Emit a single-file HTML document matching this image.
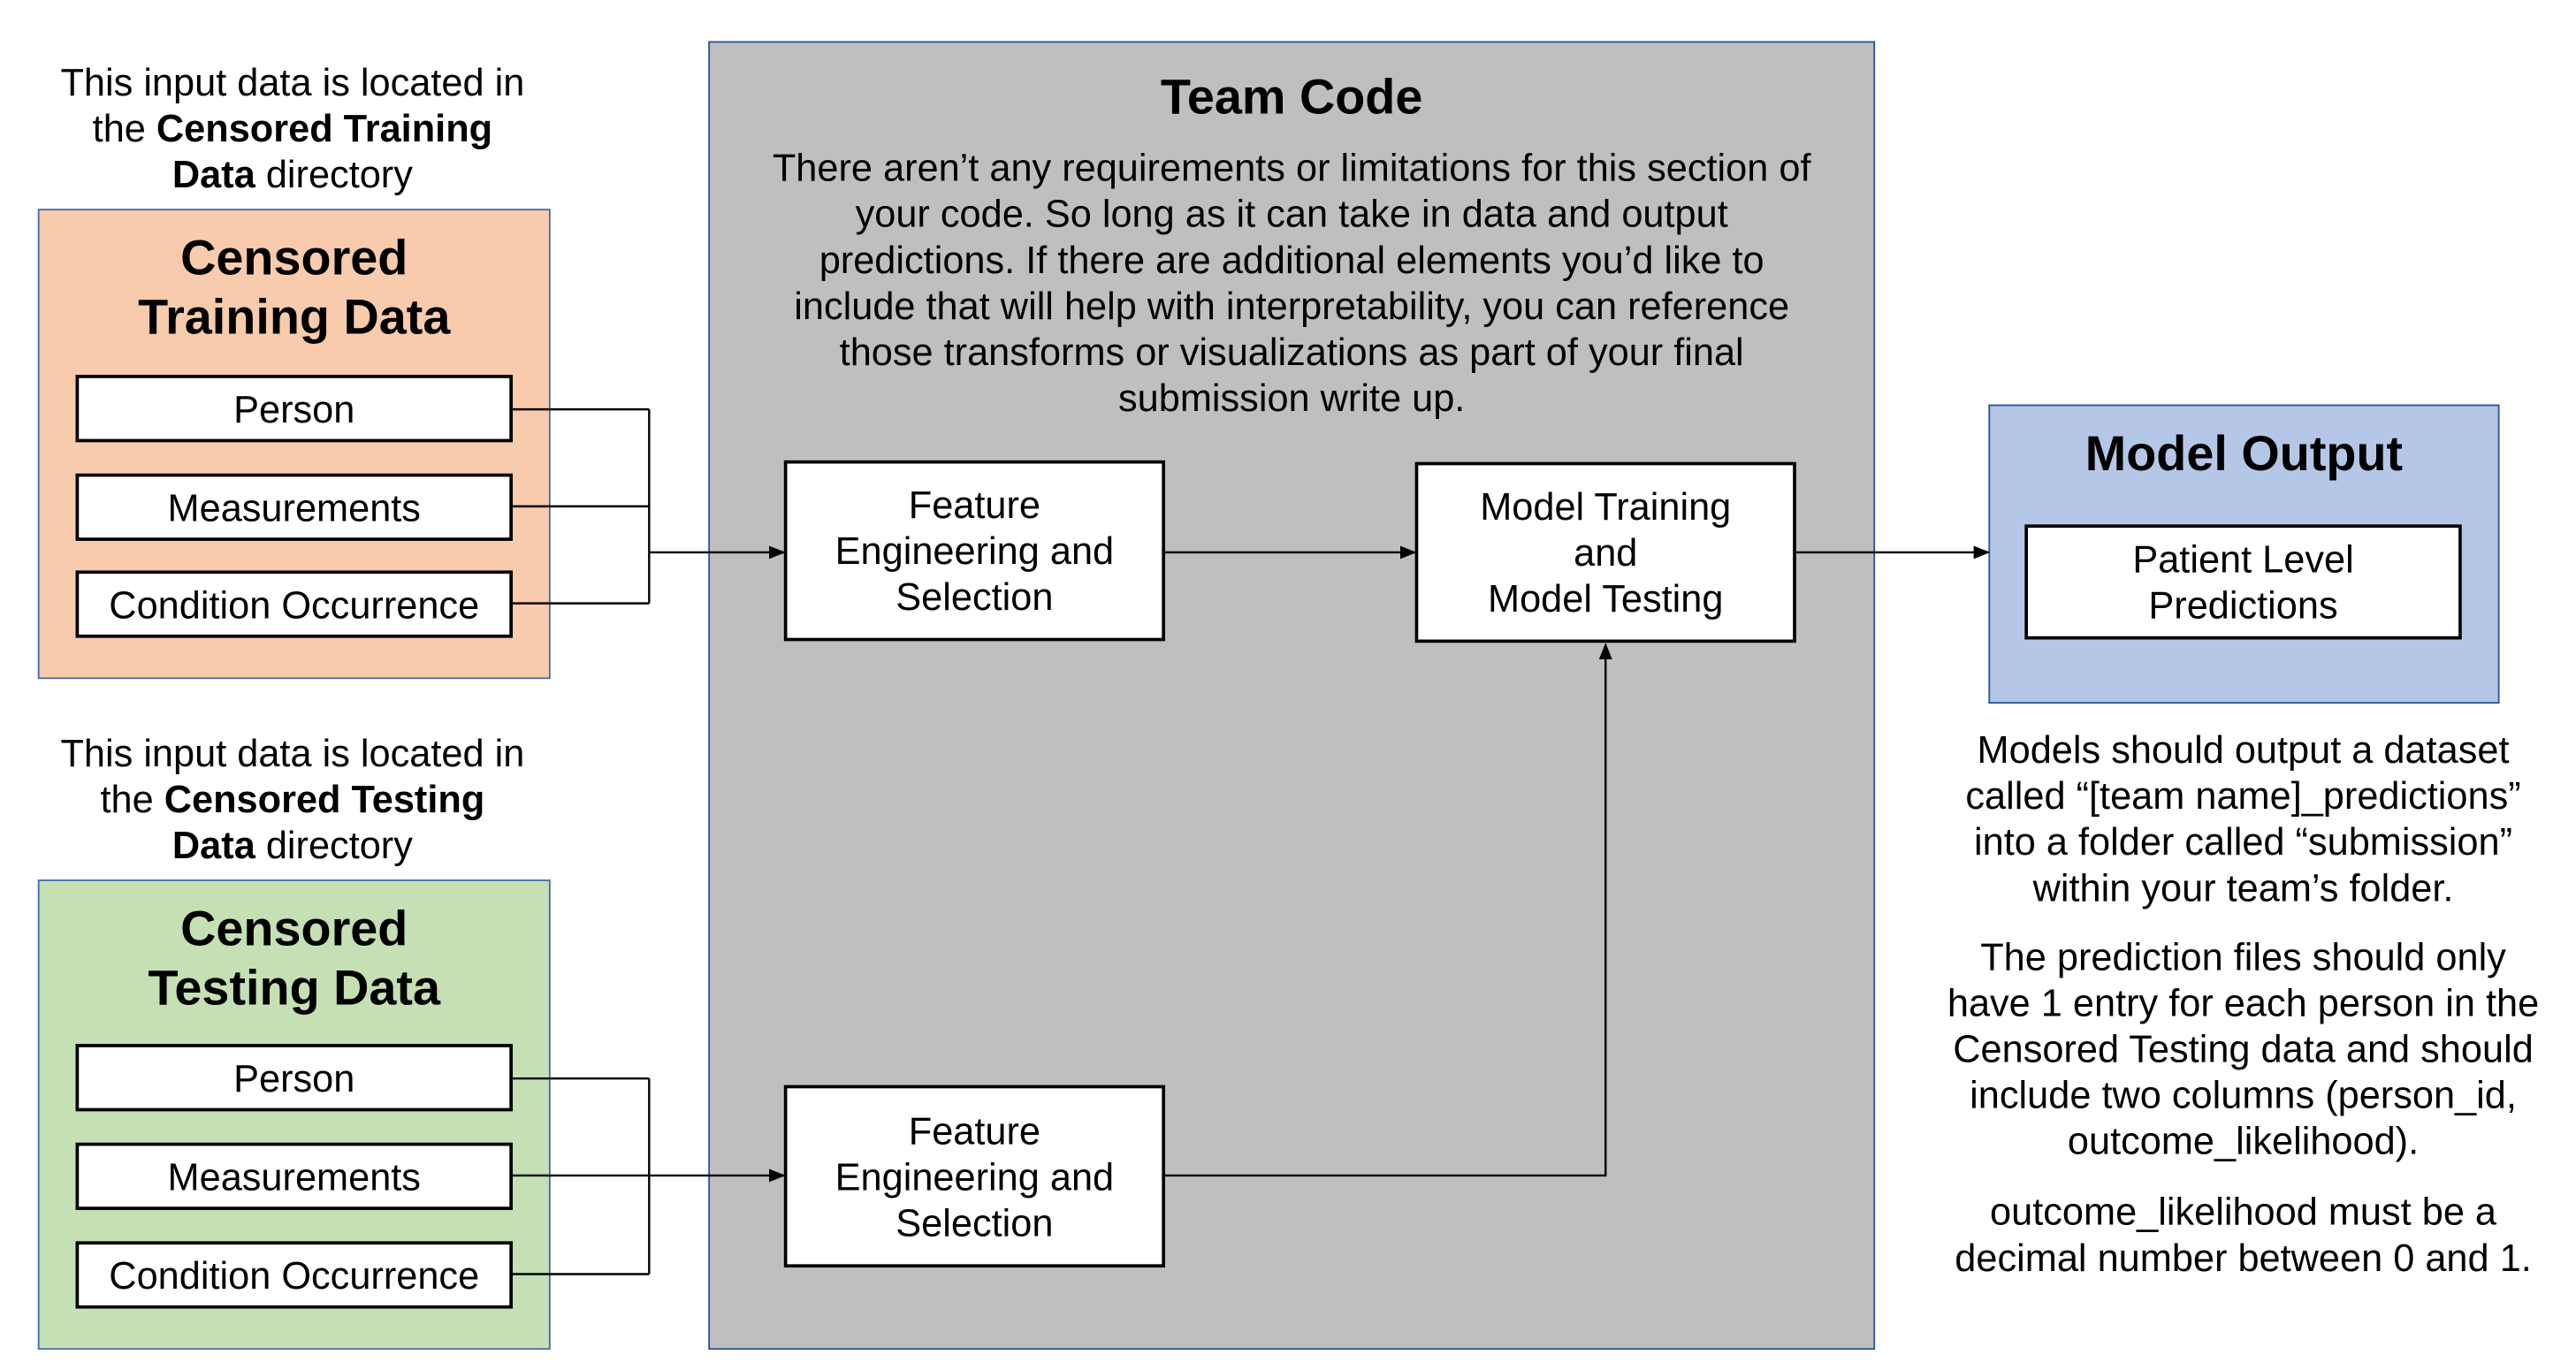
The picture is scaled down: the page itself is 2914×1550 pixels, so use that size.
<!DOCTYPE html>
<html><head><meta charset="utf-8"><style>
html,body{margin:0;padding:0;background:#fff;overflow:hidden;}
body{width:2914px;height:1550px;}
#s{position:absolute;left:0;top:0;width:1560px;height:830px;transform-origin:0 0;transform:scale(1.859,1.860);font-family:"Liberation Sans",Arial,sans-serif;color:#000;}
.abs{position:absolute;box-sizing:border-box;}
.t{position:absolute;white-space:nowrap;text-align:center;font-size:23.3px;line-height:28px;}
.b{font-weight:bold;}
.box{position:absolute;box-sizing:border-box;background:#fff;border:2.5px solid #000;display:flex;align-items:center;justify-content:center;text-align:center;font-size:23.3px;line-height:28px;}
svg{position:absolute;left:0;top:0;}
</style></head><body><div id="s">

<div class="t" style="left:0;width:356px;top:36px;">This input data is located in<br>the <b>Censored Training</b><br><b>Data</b> directory</div>
<div class="abs" style="left:23px;top:127px;width:312px;height:286px;background:#f8cbad;border:1.5px solid #4a6eb0;"></div>
<div class="t b" style="left:23px;width:312px;top:140px;font-size:30px;line-height:36px;">Censored<br>Training Data</div>
<div class="box" style="left:46px;top:228px;width:266px;height:41px;">Person</div>
<div class="box" style="left:46px;top:288px;width:266px;height:41px;">Measurements</div>
<div class="box" style="left:46px;top:347px;width:266px;height:41px;">Condition Occurrence</div>

<div class="t" style="left:0;width:356px;top:444px;">This input data is located in<br>the <b>Censored Testing</b><br><b>Data</b> directory</div>
<div class="abs" style="left:23px;top:535px;width:312px;height:286px;background:#c5e0b4;border:1.5px solid #4a6eb0;"></div>
<div class="t b" style="left:23px;width:312px;top:548px;font-size:30px;line-height:36px;">Censored<br>Testing Data</div>
<div class="box" style="left:46px;top:635px;width:266px;height:41px;">Person</div>
<div class="box" style="left:46px;top:695px;width:266px;height:41px;">Measurements</div>
<div class="box" style="left:46px;top:755px;width:266px;height:41px;">Condition Occurrence</div>

<div class="abs" style="left:431px;top:25px;width:710px;height:796px;background:#bfbfbf;border:1.5px solid #2f5597;"></div>
<div class="t b" style="left:431px;width:710px;top:43px;font-size:30px;line-height:34px;">Team Code</div>
<div class="t" style="left:431px;width:710px;top:88px;">There aren’t any requirements or limitations for this section of<br>your code. So long as it can take in data and output<br>predictions. If there are additional elements you’d like to<br>include that will help with interpretability, you can reference<br>those transforms or visualizations as part of your final<br>submission write up.</div>

<div class="box" style="left:477px;top:280px;width:232px;height:110px;">Feature<br>Engineering and<br>Selection</div>
<div class="box" style="left:861px;top:281px;width:232px;height:110px;">Model Training<br>and<br>Model Testing</div>
<div class="box" style="left:477px;top:660px;width:232px;height:111px;">Feature<br>Engineering and<br>Selection</div>

<div class="abs" style="left:1210px;top:246px;width:311px;height:182px;background:#b4c7e7;border:1.5px solid #2f5597;"></div>
<div class="t b" style="left:1210px;width:311px;top:260px;font-size:30px;line-height:34px;">Model Output</div>
<div class="box" style="left:1232px;top:319px;width:266px;height:70px;">Patient Level<br>Predictions</div>

<div class="t" style="left:1165px;width:400px;top:442px;">Models should output a dataset<br>called “[team name]_predictions”<br>into a folder called “submission”<br>within your team’s folder.</div>
<div class="t" style="left:1165px;width:400px;top:568px;">The prediction files should only<br>have 1 entry for each person in the<br>Censored Testing data and should<br>include two columns (person_id,<br>outcome_likelihood).</div>
<div class="t" style="left:1165px;width:400px;top:723px;">outcome_likelihood must be a<br>decimal number between 0 and 1.</div>

<svg width="1560" height="830" viewBox="0 0 1560 830">
<defs><marker id="a" markerWidth="10" markerHeight="8" refX="9" refY="4" orient="auto" markerUnits="userSpaceOnUse"><path d="M0,0 L10,4 L0,8 z" fill="#000"/></marker></defs>
<g stroke="#000" stroke-width="1.3" fill="none">
<path d="M312,249 H395 M312,308 H395 M312,367 H395 M395,249 V367"/>
<path d="M395,336 H477" marker-end="url(#a)"/>
<path d="M312,656 H395 M312,715 H395 M312,775 H395 M395,656 V775"/>
<path d="M395,715 H477" marker-end="url(#a)"/>
<path d="M709,336 H861" marker-end="url(#a)"/>
<path d="M1093,336 H1210" marker-end="url(#a)"/>
<path d="M709,715 H977 V392" marker-end="url(#a)"/>
</g>
</svg>
</div></body></html>
